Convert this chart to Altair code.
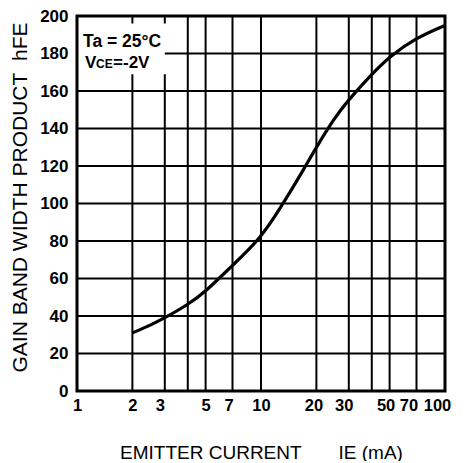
import altair as alt
import pandas as pd

# Curve readings: emitter current IE (mA) vs gain band width product hFE
ie = [2, 2.5, 3, 4, 5, 7, 10, 13, 15, 17, 20, 25, 30, 40, 50, 70, 100]
hfe = [31, 35, 39, 46, 53, 67, 81.5, 99, 109, 118, 130, 145.5, 155.5, 169, 178.5, 188.5, 195]

x_ticks = [1, 2, 3, 5, 7, 10, 20, 30, 50, 70, 100]
y_ticks = [0, 20, 40, 60, 80, 100, 120, 140, 160, 180, 200]

vgrid_full = [4, 5, 7, 10, 20, 30, 40, 50, 70]
vgrid_short = [2, 3]
hgrid_full = [20, 40, 60, 80, 100, 120, 140, 160]
hgrid_short = [180]

FONT = "Liberation Sans"
NB = "\u00a0"

xscale = alt.Scale(type="log", domain=[1, 100], nice=False)
yscale = alt.Scale(domain=[0, 200], nice=False, zero=False)

curve = pd.DataFrame({"x": ie, "y": hfe})

vg_rows = [{"x": v, "y0": 0, "y1": 200} for v in vgrid_full]
vg_rows += [{"x": v, "y0": 0, "y1": 169} for v in vgrid_short]
vg_rows += [{"x": v, "y0": 196, "y1": 200} for v in vgrid_short]
vg = pd.DataFrame(vg_rows)

hg_rows = [{"y": v, "x0": 1, "x1": 100} for v in hgrid_full]
hg_rows += [{"y": v, "x0": 3, "x1": 100} for v in hgrid_short]
hg = pd.DataFrame(hg_rows)

notes = pd.DataFrame([
    {"x": 1.078, "y": 183.5, "t": "Ta = 25°C", "fs": 17.5},
    {"x": 1.105, "y": 172.3, "t": "V", "fs": 17},
    {"x": 1.27, "y": 172.3, "t": "CE", "fs": 12},
    {"x": 1.57, "y": 172.3, "t": "=-2V", "fs": 17},
])

label_shift = {3: -5, 7: -4, 20: -3, 30: -5, 50: -4, 70: -8, 100: -8}
offset_conditions = [
    {"test": f"datum.value == {k}", "value": v} for k, v in label_shift.items()
]

x_axis = alt.Axis(
    values=x_ticks, grid=False, ticks=False, tickSize=0, domain=False,
    labelFont=FONT, labelFontSize=16.5, labelFontWeight="bold", labelColor="black",
    labelPadding=6, labelBaseline="top", labelOverlap=False, labelBound=False,
    labelFlush=False,
    labelOffset={"condition": offset_conditions, "value": 0},
    title="EMITTER CURRENT" + NB * 7 + "IE (mA)", titleFont=FONT, titleFontSize=19,
    titleFontWeight="normal", titleColor="black", titleY=67, titleBaseline="alphabetic",
)
y_axis = alt.Axis(
    values=y_ticks, grid=False, ticks=False, tickSize=0, domain=False,
    labelFont=FONT, labelFontSize=17, labelFontWeight="bold", labelColor="black",
    labelPadding=9, labelOverlap=False,
    title="GAIN BAND WIDTH PRODUCT" + NB * 2 + "hFE", titleFont=FONT, titleFontSize=21,
    titleFontWeight="normal", titleColor="black", titleAngle=270,
    titleX=-51, titleY=181, titleAlign="center", titleBaseline="alphabetic",
)

vrules = alt.Chart(vg).mark_rule(color="black", strokeWidth=2).encode(
    x=alt.X("x:Q", scale=xscale, axis=x_axis),
    y=alt.Y("y0:Q", scale=yscale, axis=y_axis),
    y2="y1:Q",
)
hrules = alt.Chart(hg).mark_rule(color="black", strokeWidth=2).encode(
    x=alt.X("x0:Q", scale=xscale, axis=x_axis),
    x2="x1:Q",
    y=alt.Y("y:Q", scale=yscale, axis=y_axis),
)
line = alt.Chart(curve).mark_line(color="black", strokeWidth=3.2, interpolate="basis").encode(
    x=alt.X("x:Q", scale=xscale, axis=x_axis),
    y=alt.Y("y:Q", scale=yscale, axis=y_axis),
)
text = alt.Chart(notes).mark_text(
    align="left", baseline="alphabetic", font=FONT, fontWeight="bold", color="black"
).encode(
    x=alt.X("x:Q", scale=xscale, axis=x_axis),
    y=alt.Y("y:Q", scale=yscale, axis=y_axis),
    text="t:N",
    size=alt.Size("fs:Q", scale=None, legend=None),
)

chart = alt.layer(vrules, hrules, line, text).properties(
    width=368, height=375,
    background="white",
    autosize=alt.AutoSizeParams(type="none"),
    padding={"left": 69, "top": 8, "right": 14, "bottom": 70},
).configure_view(stroke="black", strokeWidth=3)

chart.save("out.html", embed_options={"renderer": "svg", "actions": False})
